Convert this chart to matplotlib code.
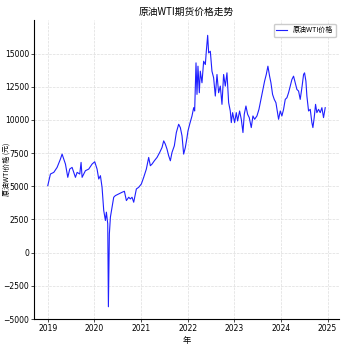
import matplotlib
matplotlib.use("Agg")
import matplotlib.pyplot as plt
import matplotlib.dates as mdates
import pandas as pd

plt.rcParams['font.family'] = ['Noto Sans CJK SC', 'DejaVu Sans']

# time in years since 2019-01-01
years = [
    0.000, 0.057, 0.129, 0.200, 0.271, 0.307, 0.343, 0.379, 0.429, 0.471,
    0.521, 0.593, 0.629, 0.686, 0.714, 0.736, 0.807, 0.879, 0.950, 1.007,
    1.057, 1.093, 1.129, 1.164, 1.200, 1.236, 1.257, 1.286, 1.300, 1.321,
    1.343, 1.379, 1.414, 1.450, 1.521, 1.593, 1.643, 1.686, 1.736, 1.771,
    1.807, 1.843, 1.900, 1.950, 2.007, 2.057, 2.114, 2.164, 2.200, 2.236,
    2.286, 2.343, 2.400, 2.450, 2.486, 2.521, 2.557, 2.593, 2.629, 2.664,
    2.714, 2.757, 2.807, 2.843, 2.879, 2.914, 2.950, 2.986, 3.007, 3.043,
    3.093, 3.129, 3.150, 3.179, 3.200, 3.221, 3.250, 3.271, 3.307, 3.343,
    3.379, 3.400, 3.429, 3.450, 3.486, 3.521, 3.557, 3.593, 3.629, 3.664,
    3.700, 3.736, 3.771, 3.807, 3.843, 3.879, 3.914, 3.936, 3.964, 4.007,
    4.043, 4.071, 4.114, 4.150, 4.186, 4.214, 4.250, 4.286, 4.321, 4.364,
    4.400, 4.436, 4.486, 4.529, 4.571, 4.607, 4.650, 4.686, 4.721, 4.757,
    4.786, 4.821, 4.857, 4.893, 4.921, 4.950, 4.986, 5.021, 5.057, 5.093,
    5.129, 5.164, 5.200, 5.236, 5.271, 5.307, 5.343, 5.379, 5.414, 5.450,
    5.486, 5.507, 5.536, 5.557, 5.593, 5.629, 5.664, 5.686, 5.714, 5.743,
    5.771, 5.807, 5.843, 5.879, 5.914, 5.950,
]
prices = [
    5050, 5925, 6050, 6425, 7050, 7425, 7050, 6675, 5675, 6300,
    6425, 5675, 6050, 5925, 6800, 5675, 6175, 6300, 6675, 6850,
    6300, 5550, 5800, 4925, 3175, 2425, 3050, 2175, -4075, 1425,
    2675, 3425, 4175, 4300, 4425, 4550, 4625, 3925, 4175, 4050,
    4175, 3800, 4800, 4925, 5175, 5675, 6300, 7175, 6550, 6675,
    6925, 7175, 7550, 7925, 8425, 8175, 7800, 7300, 6925, 7550,
    8050, 9050, 9675, 9425, 8800, 7425, 7925, 8675, 9175, 9675,
    10300, 10925, 10675, 14300, 11925, 14050, 12050, 13675, 12800, 14425,
    14175, 15175, 16375, 15050, 15175, 13675, 13175, 11800, 13425, 12050,
    12550, 11175, 13425, 12550, 13550, 11300, 10675, 9800, 10550, 9800,
    10550, 9925, 10675, 10050, 9050, 10425, 11050, 10425, 10175, 9425,
    10300, 10050, 10300, 10800, 11550, 12175, 12925, 13425, 14050, 13300,
    12800, 11925, 11550, 11300, 10675, 10050, 10675, 10300, 10800, 11550,
    11675, 12050, 12550, 13050, 13300, 12800, 12300, 12175, 11550, 12425,
    13425, 13550, 12925, 11800, 10675, 10800, 9800, 9425, 10175, 11175,
    10550, 10800, 10550, 10925, 10175, 10925,
]

title = "原油WTI期货价格走势"
series_name = "原油WTI价格"
ylabel = "原油WTI价格 (元)"
xlabel = "年"

dates = pd.Timestamp("2019-01-01") + pd.to_timedelta([y * 365.25 for y in years], unit="D")

fig = plt.figure(figsize=(3.46, 3.46), dpi=100)
ax = fig.add_axes([0.098, 0.077, 0.882, 0.865])
ax.plot(dates, prices, color="#1f1fff", linewidth=0.8, label=series_name)

ax.xaxis.set_major_locator(mdates.YearLocator())
ax.xaxis.set_major_formatter(mdates.DateFormatter("%Y"))
ax.set_ylim(-5025, 17525)
ax.set_yticks(range(-5000, 15001, 2500))

ax.grid(True, color="#dddddd", linestyle="--", linewidth=0.5)
ax.spines["top"].set_visible(False)
ax.spines["right"].set_visible(False)
ax.tick_params(labelsize=5.5, length=2, width=0.5, pad=1.5)
for lbl in ax.get_xticklabels() + ax.get_yticklabels():
    lbl.set_family(["Liberation Sans Narrow", "DejaVu Sans"])

ax.set_title(title, fontsize=7, pad=4)
ax.set_xlabel(xlabel, fontsize=6, labelpad=2)
ax.set_ylabel(ylabel, fontsize=5)
ax.yaxis.set_label_coords(-0.075, 0.5)
ax.legend(loc="upper right", fontsize=5, handlelength=1.5, framealpha=1)

fig.savefig("out.png", dpi=100)
